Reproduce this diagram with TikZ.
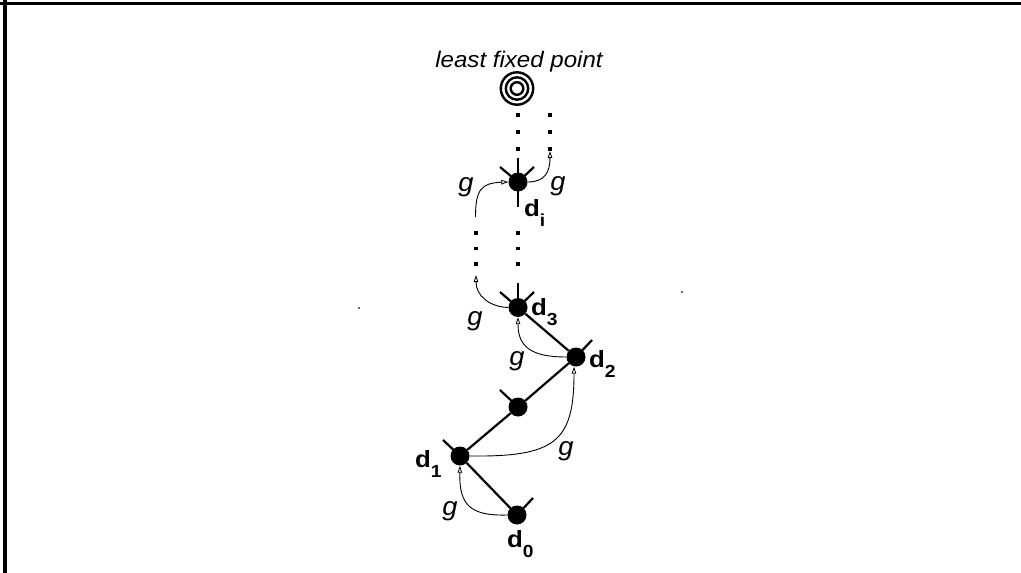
\documentclass[tikz,border=0pt]{standalone}
\usepackage{fontspec}
\setmainfont{Liberation Sans}
\usetikzlibrary{arrows.meta}

% wide sans lettering used for all labels
\newcommand{\widetext}[2][1.15]{\scalebox{#1}[1]{#2}}
\newcommand{\dlabel}[1]{\widetext[1.1]{\fontsize{23.5}{24}\selectfont\bfseries d\raisebox{-10pt}{\fontsize{17.5}{18}\selectfont #1}}}

\tikzset{
  elem/.style={circle, fill=black, inner sep=0pt, minimum size=19pt},
  order/.style={line width=2.2pt},
  spike/.style={line width=2.2pt},
  gmap/.style={line width=0.9pt, -{Triangle[open, length=7pt, width=4.5pt, line width=0.8pt]}},
  glabel/.style={inner sep=0pt, font=\fontsize{26}{27}\selectfont\itshape},
  dname/.style={inner sep=0pt, anchor=base west},
  chaindot/.style={fill=black, minimum size=3.6pt, inner sep=0pt},
}

\begin{document}
\begin{tikzpicture}[x=1pt, y=-1pt]
  \useasboundingbox (0,0) rectangle (1021,573);

  % frame edges
  \draw[line width=3.5pt] (0,3.5) -- (1021,3.5);
  \draw[line width=3.5pt] (5,0) -- (5,573);

  % faint specks
  \fill[black!60] (358.3,307.3) rectangle (359.7,309);
  \fill[black!60] (681.3,291.3) rectangle (682.7,293);

  % least fixed point target
  \node[inner sep=0pt] (lfplabel) at (519,61.5) {\widetext[1.07]{\fontsize{22.5}{23}\selectfont\itshape least fixed point}};
  \node[circle, inner sep=0pt, minimum size=36pt] (lfp) at (517,88.5) {};
  \foreach \r in {16.2,11.2,6.3}
    \draw[line width=2.4pt] (lfp.center) circle (\r);

  % chain elements
  \node[elem] (di) at (518,182) {};
  \node[elem] (d3) at (518,307.5) {};
  \node[elem] (d2) at (576,357) {};
  \node[elem] (dm) at (518,407) {};
  \node[elem] (d1) at (460,456) {};
  \node[elem] (d0) at (517,515) {};

  % ends of the spikes
  \coordinate (diN) at (518,158);
  \coordinate (diS) at (518,207);
  \coordinate (diNW) at (500,167);
  \coordinate (diNE) at (534,167);
  \coordinate (d3N) at (518,283);
  \coordinate (d3NW) at (500,292);
  \coordinate (d3NE) at (534,292);
  \coordinate (d2NE) at (592,340);
  \coordinate (dmNW) at (500,390);
  \coordinate (d1NW) at (443,440);
  \coordinate (d0NE) at (533,498);

  \foreach \e/\n in {di/diN, di/diS, di/diNW, di/diNE, d3/d3N, d3/d3NW, d3/d3NE, d2/d2NE, dm/dmNW, d1/d1NW, d0/d0NE}
    \draw[spike] (\e.center) -- (\n);

  % order relation
  \draw[order] (d0) -- (d1);
  \draw[order] (d1) -- (dm);
  \draw[order] (dm) -- (d2);
  \draw[order] (d2) -- (d3);

  % dotted continuations
  \foreach \y in {115,132,149} {
    \node[chaindot] at (518,\y) {};
    \node[chaindot] at (550,\y) {};
  }
  \foreach \y in {233,248.5,264} {
    \node[chaindot] at (476,\y) {};
    \node[chaindot] at (518,\y) {};
  }

  % ends of the g arrows in the dotted columns
  \coordinate (upL) at (476,275);
  \coordinate (fromL) at (475.5,217);
  \coordinate (upR) at (550,151);

  % applications of g
  \draw[gmap] (d0.west) .. controls (470,516) and (459,505) .. (d1.south);
  \draw[gmap] (d1.east) .. controls (555,457) and (574,442) .. ([xshift=-2pt]d2.south);
  \draw[gmap] (d2.west) .. controls (530,357) and (518,346) .. (d3.south);
  \draw[gmap] (d3.west) .. controls (490,307) and (476,296) .. (upL);
  \draw[gmap] (fromL) .. controls (475.5,190) and (481,183) .. (di.west);
  \draw[gmap] (di.east) .. controls (545,182) and (550,172) .. (upR);

  % g labels
  \node[glabel] (g1) at (466,187.5) {\widetext[1.05]{g}};
  \node[glabel] (g2) at (558,186.5) {\widetext[1.05]{g}};
  \node[glabel] (g3) at (475,321.5) {\widetext[1.05]{g}};
  \node[glabel] (g4) at (517,361.5) {\widetext[1.05]{g}};
  \node[glabel] (g5) at (566,451.5) {\widetext[1.05]{g}};
  \node[glabel] (g6) at (450,511.5) {\widetext[1.05]{g}};

  % element names
  \node[dname] (ldi) at (524,216) {\dlabel{i}};
  \node[dname] (ld3) at (531,315) {\dlabel{3}};
  \node[dname] (ld2) at (589,367) {\dlabel{2}};
  \node[dname] (ld1) at (415,467) {\dlabel{1}};
  \node[dname] (ld0) at (507,547) {\dlabel{0}};
\end{tikzpicture}
\end{document}
